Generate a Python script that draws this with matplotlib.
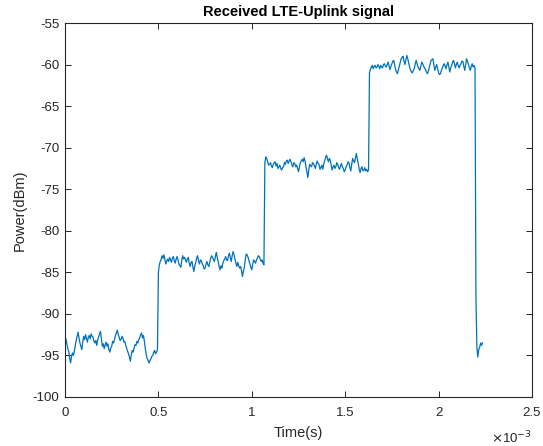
import numpy as np
import matplotlib
matplotlib.use('Agg')
import matplotlib.pyplot as plt
from matplotlib.ticker import FuncFormatter

plt.rcParams['font.family'] = ['Liberation Sans', 'DejaVu Sans']

# sample interval and burst start times, in units of 1e-3 s
dt = 0.005
starts = [0.0, 0.50, 1.07, 1.63, 2.20]

# received power per burst (dBm), one value per sample
burst1 = [-93.3, -93.0, -93.6, -94.2, -94.5, -95.3, -95.9, -95.1, -94.7, -95.0,
          -94.5, -93.8, -93.2, -92.7, -92.2, -92.9, -93.5, -93.9, -94.3, -93.4,
          -92.7, -93.1, -92.5, -92.9, -93.4, -92.8, -92.6, -93.0, -92.4, -92.7,
          -92.8, -93.3, -93.5, -93.2, -93.8, -93.1, -92.8, -92.4, -92.1, -93.0,
          -93.9, -93.6, -94.2, -93.7, -93.4, -93.9, -93.6, -94.3, -94.6, -94.1,
          -93.9, -93.3, -93.5, -93.1, -92.6, -92.3, -91.95, -92.5, -92.8, -93.2,
          -93.1, -92.7, -92.9, -93.4, -93.3, -93.8, -94.1, -94.5, -94.8, -95.2,
          -95.7, -94.9, -94.4, -94.6, -94.1, -93.7, -93.8, -93.3, -93.5, -93.1,
          -92.9, -92.5, -92.3, -92.9, -92.6, -93.3, -94.2, -94.9, -95.4, -95.6,
          -95.9, -95.6, -95.4, -95.1, -95.0, -94.6, -94.4, -94.8, -94.6, -94.3]
burst2 = [-85.0, -84.1, -83.7, -83.4, -83.0, -83.3, -82.9, -83.5, -84.0, -83.6,
          -83.4, -83.7, -83.2, -83.5, -83.8, -83.3, -83.1, -83.6, -83.9, -83.4,
          -83.1, -83.5, -84.0, -84.2, -84.4, -83.6, -83.0, -83.4, -83.2, -83.5,
          -83.8, -83.4, -83.2, -83.9, -84.3, -83.8, -83.7, -84.4, -84.9, -84.2,
          -83.8, -83.3, -83.0, -83.6, -84.0, -83.5, -83.6, -84.0, -84.2, -84.6,
          -84.5, -84.0, -83.7, -84.1, -84.3, -83.8, -83.3, -83.0, -83.2, -83.5,
          -83.7, -83.1, -82.6, -83.2, -83.7, -84.3, -84.7, -84.2, -84.5, -83.9,
          -83.6, -83.4, -83.1, -83.5, -83.6, -83.0, -82.7, -83.2, -83.7, -83.0,
          -82.5, -82.9, -83.4, -83.9, -84.3, -83.8, -84.2, -84.5, -84.3, -84.8,
          -85.5, -84.9, -84.4, -83.5, -82.8, -82.9, -83.2, -83.6, -84.0, -84.4,
          -84.7, -84.0, -83.5, -83.7, -83.9, -83.5, -83.3, -83.0, -83.1, -83.4,
          -83.7, -83.5, -83.9, -84.1]
burst3 = [-71.8, -71.1, -71.3, -71.7, -72.1, -72.0, -71.8, -72.2, -72.4, -72.0,
          -71.8, -71.7, -72.2, -71.9, -72.5, -72.3, -72.1, -72.5, -72.7, -72.4,
          -72.3, -71.8, -72.0, -71.6, -71.5, -71.9, -71.6, -71.4, -71.7, -72.1,
          -72.3, -71.8, -71.9, -72.3, -72.1, -72.5, -72.9, -72.3, -71.8, -71.6,
          -71.4, -71.7, -71.2, -71.6, -72.3, -72.9, -73.6, -72.7, -72.0, -72.2,
          -72.3, -71.8, -71.9, -72.2, -72.5, -72.0, -71.6, -71.9, -72.0, -72.6,
          -72.4, -72.1, -72.6, -72.0, -71.6, -71.2, -70.9, -71.3, -71.7, -71.3,
          -71.5, -72.1, -72.7, -72.3, -72.1, -72.5, -72.3, -71.8, -72.0, -72.4,
          -72.6, -72.2, -71.9, -72.3, -72.5, -72.9, -72.7, -72.3, -72.1, -71.7,
          -71.8, -72.4, -72.8, -72.0, -71.3, -71.6, -71.8, -71.2, -70.7, -71.4,
          -71.9, -72.6, -73.0, -72.5, -72.3, -72.8, -72.7, -72.4, -72.8, -72.6,
          -72.9, -72.7]
burst4 = [-61.0, -60.6, -60.3, -60.1, -60.5, -60.2, -60.1, -60.4, -60.3, -60.0,
          -60.2, -60.5, -60.1, -60.3, -60.4, -60.0, -59.9, -60.2, -60.3, -60.0,
          -59.7, -60.2, -60.6, -60.2, -59.9, -59.6, -59.5, -60.1, -60.6, -60.9,
          -61.1, -60.6, -60.2, -59.7, -59.3, -59.1, -59.0, -59.6, -60.0, -59.4,
          -58.9, -59.3, -59.8, -60.3, -60.7, -60.9, -61.0, -60.7, -60.5, -59.9,
          -59.5, -59.9, -60.3, -60.5, -60.7, -60.2, -59.7, -59.9, -60.2, -60.4,
          -60.6, -60.9, -61.1, -60.8, -60.4, -59.9, -59.5, -59.4, -59.3, -60.1,
          -60.7, -60.3, -60.0, -60.5, -61.0, -61.2, -61.1, -60.7, -60.4, -60.1,
          -59.9, -60.2, -60.5, -60.0, -59.7, -60.3, -60.9, -60.4, -60.1, -59.7,
          -59.5, -59.9, -60.4, -60.0, -59.7, -60.1, -60.4, -60.1, -59.9, -59.6,
          -59.6, -60.2, -60.7, -60.0, -59.3, -59.6, -60.0, -60.4, -60.7, -60.2,
          -59.9, -60.3, -60.1, -60.4]
tail = [-88.0, -94.0, -95.2, -94.3, -94.0, -93.5, -93.8, -93.5]

bursts = [burst1, burst2, burst3, burst4, tail]
t = np.concatenate([s + np.arange(len(b)) * dt for s, b in zip(starts, bursts)])
power = np.concatenate(bursts)

fig = plt.figure(figsize=(5.43, 4.46), dpi=100)
ax = fig.add_axes([0.1197, 0.1099, 0.8600, 0.8385])

ax.plot(t, power, color='#0072BD', linewidth=0.9)

ax.set_xlim(0, 2.5)
ax.set_ylim(-100, -55)
ax.set_xticks(np.arange(0, 2.51, 0.5))
ax.set_yticks(np.arange(-100, -54, 5))
ax.xaxis.set_major_formatter(FuncFormatter(lambda v, p: '%g' % v))
ax.yaxis.set_major_formatter(FuncFormatter(lambda v, p: '%g' % v))

axc = '#262626'
for s in ax.spines.values():
    s.set_color(axc)
    s.set_linewidth(0.8)
ax.tick_params(direction='in', length=4, width=0.7, colors=axc,
               labelsize=9.5, top=True, right=True, pad=4)
ax.tick_params(axis='x', pad=7)

ax.set_title('Received LTE-Uplink signal', fontsize=10.5, fontweight='bold',
             color='black', pad=5)
ax.set_xlabel('Time(s)', fontsize=10.5, color=axc, labelpad=5.5)
ax.set_ylabel('Power(dBm)', fontsize=10.5, color=axc, labelpad=4)
ax.text(1.0, -0.088, r'$\times$10$^{-3}$', transform=ax.transAxes,
        ha='right', va='top', fontsize=9.5, color=axc)

fig.savefig('out.png', dpi=100)
